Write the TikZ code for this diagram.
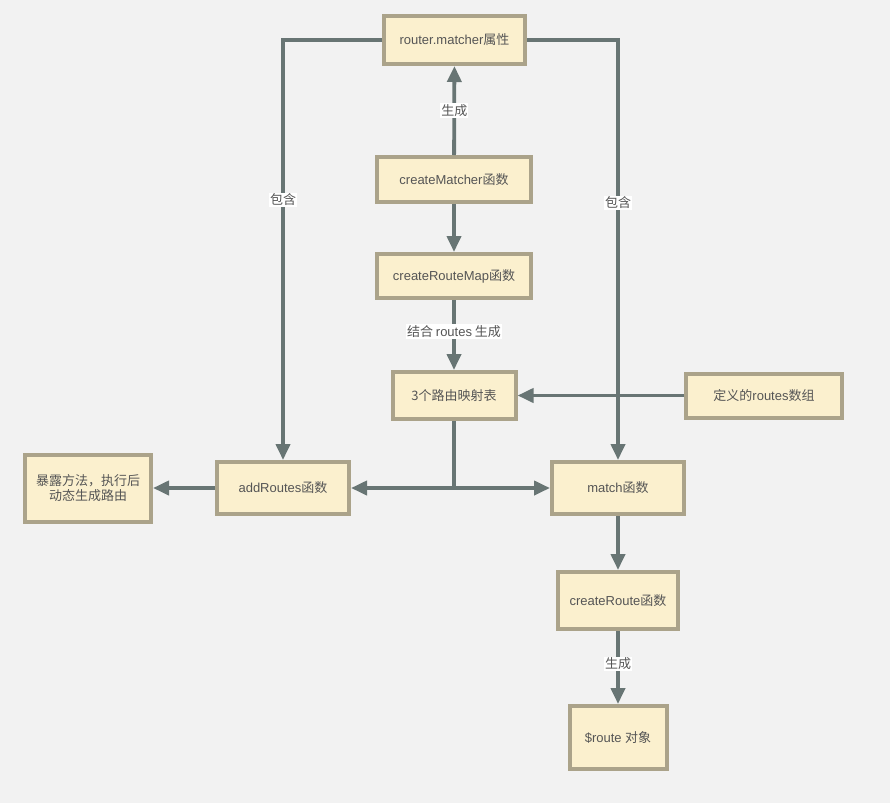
\documentclass[tikz,border=0pt]{standalone}
\usepackage{fontspec}
\setmainfont{Liberation Sans}
\newfontfamily\cjk{Noto Sans CJK SC}
\usetikzlibrary{arrows.meta}
\definecolor{bgcol}{HTML}{F2F2F2}
\definecolor{boxfill}{HTML}{FBF0CE}
\definecolor{boxline}{HTML}{ABA38A}
\definecolor{linkcol}{HTML}{687574}
\definecolor{txtcol}{HTML}{555555}
\begin{document}
\begin{tikzpicture}[
  x=1pt, y=-1pt,
  box/.style={rectangle, draw=boxline, fill=boxfill, line width=4pt, text=txtcol,
    font=\fontsize{13}{15.5}\selectfont, align=center, inner sep=2pt},
  wire/.style={draw=linkcol, line width=3.8pt},
  link/.style={wire, -{Triangle[width=14pt,length=16pt]}},
  tag/.style={fill=white, text=txtcol, inner sep=1pt, font=\fontsize{13}{15}\cjk},
]
  \fill[bgcol] (0,0) rectangle (890,803);
  \useasboundingbox (0,0) rectangle (890,803);

  % boxes
  \node[box, minimum width=141pt, minimum height=48pt] (matcher) at (454.5,40) {router.matcher{\cjk 属性}};
  \node[box, minimum width=154pt, minimum height=45pt] (createMatcher) at (454,179.5) {createMatcher{\cjk 函数}};
  \node[box, minimum width=154pt, minimum height=44pt] (createRouteMap) at (454,276) {createRouteMap{\cjk 函数}};
  \node[box, minimum width=123pt, minimum height=47pt] (table) at (454,395.5) {\cjk 3个路由映射表};
  \node[box, minimum width=156pt, minimum height=44pt] (routes) at (764,395.5) {{\cjk 定义的}routes{\cjk 数组}};
  \node[box, minimum width=132pt, minimum height=52pt] (addRoutes) at (283,488) {addRoutes{\cjk 函数}};
  \node[box, minimum width=126pt, minimum height=67pt] (expose) at (88,488) {\cjk 暴露方法，执行后\\\cjk 动态生成路由};
  \node[box, minimum width=132pt, minimum height=52pt] (match) at (618,488) {match{\cjk 函数}};
  \node[box, minimum width=120pt, minimum height=57pt] (createRoute) at (618,600.5) {createRoute{\cjk 函数}};
  \node[box, minimum width=97pt, minimum height=63pt] (route) at (618,737.5) {\$route {\cjk 对象}};
  \coordinate (split) at (454,488);

  % connectors
  \draw[link] (matcher.west) -| (addRoutes.north) node[tag, pos=0.69] {包含};
  \draw[link] (matcher.east) -| (match.north) node[tag, pos=0.694] {包含};
  \draw[link] (createMatcher) -- (matcher) node[tag, midway] {生成};
  \draw[link] (createMatcher) -- (createRouteMap);
  \draw[link] (createRouteMap) -- (table) node[tag, pos=0.45] {结合 {\setmainfont{Liberation Sans}\fontsize{13}{15}\selectfont routes} 生成};
  \draw[link] (routes) -- (table);
  \draw[wire] (table.south) -- (split);
  \draw[link] (split) -- (addRoutes);
  \draw[link] (split) -- (match);
  \draw[link] (addRoutes) -- (expose);
  \draw[link] (match) -- (createRoute);
  \draw[link] (createRoute) -- (route) node[tag, pos=0.45] {生成};
\end{tikzpicture}
\end{document}
